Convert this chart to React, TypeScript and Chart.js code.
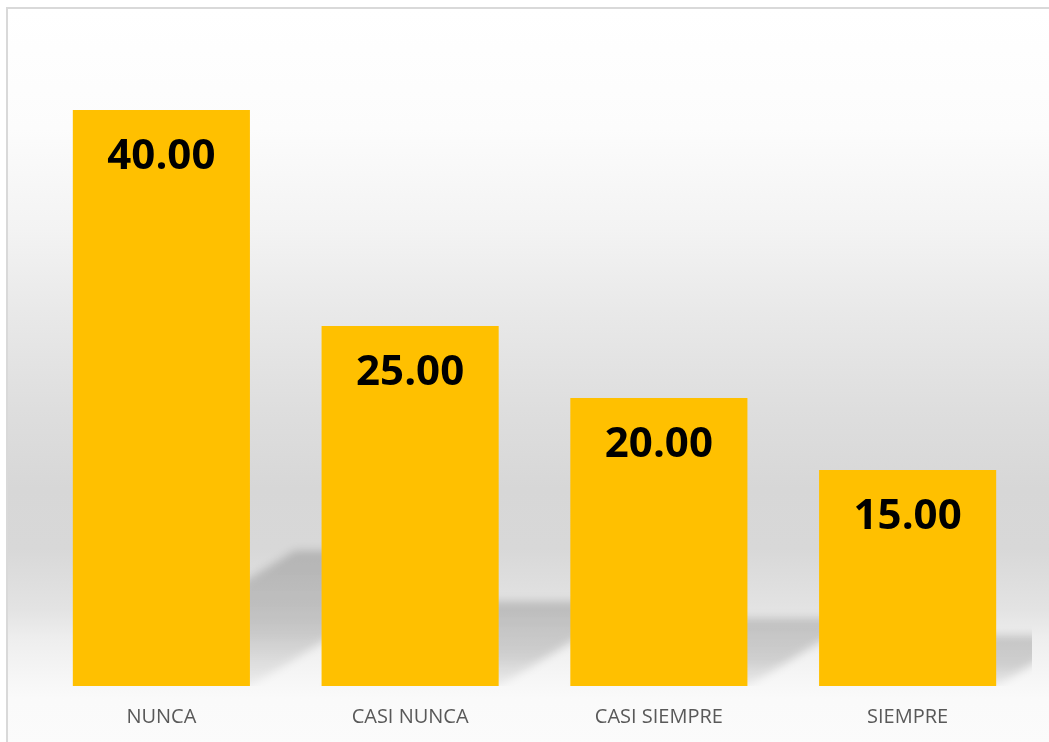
import React, { useEffect, useRef } from "react";
import { Chart, registerables } from "chart.js";

Chart.register(...registerables);

const categories = ["NUNCA", "CASI NUNCA", "CASI SIEMPRE", "SIEMPRE"];
const values = [40, 25, 20, 15];
const yMax = 45;

const shadowPlugin = {
  id: "perspectiveShadow",
  beforeDatasetsDraw(chart: any) {
    const { ctx, chartArea } = chart;
    const meta = chart.getDatasetMeta(0);
    ctx.save();
    ctx.beginPath();
    ctx.rect(chartArea.left, chartArea.top, chartArea.right - chartArea.left, chartArea.bottom - chartArea.top);
    ctx.clip();
    ctx.filter = "blur(4px)";
    meta.data.forEach((bar: any) => {
      const half = bar.width / 2;
      const left = bar.x - half;
      const right = bar.x + half;
      const base = bar.base;
      const h = base - bar.y;
      const sh = h * 0.235;
      const shift = sh / 0.61;
      const g = ctx.createLinearGradient(0, base - sh, 0, base);
      g.addColorStop(0, "rgba(0,0,0,0.17)");
      g.addColorStop(0.6, "rgba(0,0,0,0.15)");
      g.addColorStop(1, "rgba(0,0,0,0.04)");
      ctx.fillStyle = g;
      ctx.beginPath();
      ctx.moveTo(left, base);
      ctx.lineTo(right, base);
      ctx.lineTo(right + shift, base - sh);
      ctx.lineTo(left + shift, base - sh);
      ctx.closePath();
      ctx.fill();
    });
    ctx.restore();
  },
};

const labelPlugin = {
  id: "valueLabels",
  afterDatasetsDraw(chart: any) {
    const { ctx } = chart;
    const meta = chart.getDatasetMeta(0);
    const data = chart.data.datasets[0].data;
    ctx.save();
    ctx.font = "bold 42px 'Open Sans'";
    ctx.fillStyle = "#000000";
    ctx.textAlign = "center";
    ctx.textBaseline = "middle";
    meta.data.forEach((bar: any, i: number) => {
      ctx.fillText(Number(data[i]).toFixed(2), bar.x, bar.y + 47);
    });
    ctx.restore();
  },
};

export default function App() {
  const canvasRef = useRef<HTMLCanvasElement | null>(null);

  useEffect(() => {
    if (!canvasRef.current) return;
    const chart = new Chart(canvasRef.current, {
      type: "bar",
      data: {
        labels: categories,
        datasets: [
          {
            data: values,
            backgroundColor: "#FFC000",
            borderWidth: 0,
            categoryPercentage: 1,
            barPercentage: 0.712,
          },
        ],
      },
      options: {
        animation: false,
        responsive: true,
        maintainAspectRatio: false,
        layout: { padding: { left: 37, right: 17, top: 38, bottom: 15 } },
        plugins: {
          legend: { display: false },
          tooltip: { enabled: false },
          title: { display: false },
        },
        scales: {
          x: {
            grid: { display: false, drawTicks: false },
            border: { display: false },
            ticks: {
              color: "#595959",
              padding: 19,
              font: { family: "'Open Sans'", size: 20 },
            },
          },
          y: {
            display: false,
            min: 0,
            max: yMax,
          },
        },
      },
      plugins: [shadowPlugin, labelPlugin],
    });
    return () => chart.destroy();
  }, []);

  return (
    <div style={{ position: "fixed", left: 0, top: 0, width: 1049, height: 742, background: "#ffffff", overflow: "hidden" }}>
      <div
        style={{
          position: "absolute",
          left: 6,
          top: 7,
          width: 1049,
          height: 740,
          border: "2px solid #d9d9d9",
          background:
            "linear-gradient(to bottom, #ffffff 0px, #fcfcfc 120px, #f3f3f3 220px, #e9e9e9 300px, #dedede 400px, #d7d7d7 480px, #d8d8d8 540px, #e3e3e3 600px, #eeeeee 630px, #f6f6f6 668px, #fafafa 690px, #fbfbfb 100%)",
        }}
      />
      <div style={{ position: "absolute", left: 0, top: 0, width: 1049, height: 763 }}>
        <canvas ref={canvasRef} />
      </div>
    </div>
  );
}
